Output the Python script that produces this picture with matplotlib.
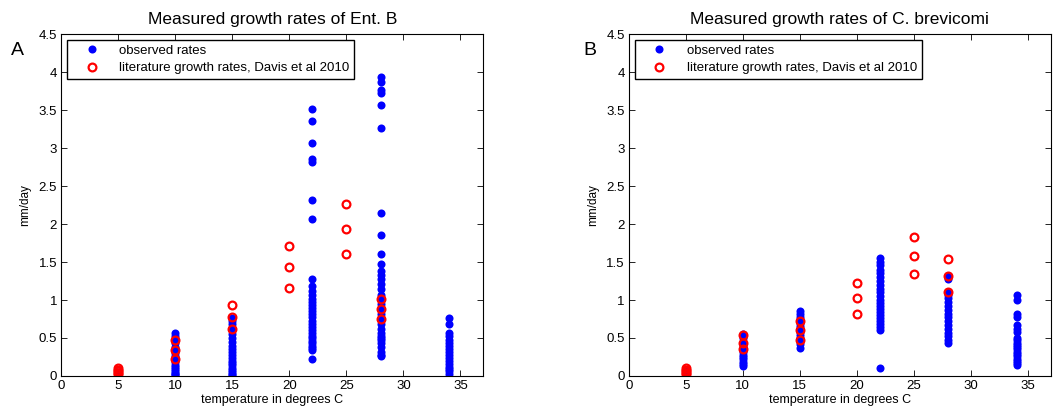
import matplotlib.pyplot as plt
import numpy as np

plt.rcParams['font.family'] = ['Liberation Sans', 'DejaVu Sans']

# observed growth rates (mm/day) per temperature, Ent. B
entb_obs_5 = [0.02, 0.05]
entb_obs_10 = [0.57, 0.52, 0.47, 0.43, 0.38, 0.34, 0.30, 0.26, 0.22, 0.18,
               0.15, 0.12, 0.09, 0.06, 0.04, 0.02, 0.01]
entb_obs_15 = [0.76, 0.72, 0.68, 0.62, 0.55, 0.50, 0.45, 0.40, 0.36, 0.32,
               0.28, 0.24, 0.20, 0.17, 0.14, 0.11, 0.08, 0.05, 0.03, 0.01]
entb_obs_22 = [3.52, 3.36, 3.07, 2.86, 2.82, 2.32, 2.06, 1.28, 1.18, 1.12,
               1.06, 1.01, 0.97, 0.93, 0.89, 0.85, 0.81, 0.77, 0.73, 0.69,
               0.65, 0.61, 0.57, 0.53, 0.50, 0.46, 0.43, 0.40, 0.37, 0.34, 0.23]
entb_obs_28 = [3.93, 3.87, 3.76, 3.72, 3.57, 3.27, 2.15, 1.86, 1.60, 1.48,
               1.38, 1.33, 1.27, 1.21, 1.14, 1.07, 1.01, 0.95, 0.88, 0.82,
               0.75, 0.68, 0.62, 0.56, 0.53, 0.50, 0.47, 0.43, 0.38, 0.32,
               0.28, 0.26]
entb_obs_34 = [0.76, 0.68, 0.56, 0.52, 0.48, 0.44, 0.40, 0.36, 0.32, 0.28,
               0.24, 0.20, 0.16, 0.12, 0.09, 0.06, 0.03]

# literature rates, Ent. B
entb_lit_temps = [5, 10, 15, 20, 25, 28]
entb_lit = [[0.02, 0.04, 0.06, 0.08, 0.10],
            [0.47, 0.34, 0.22],
            [0.94, 0.78, 0.62],
            [1.71, 1.43, 1.16],
            [2.26, 1.93, 1.61],
            [1.01, 0.88, 0.75]]

# observed growth rates, C. brevicomi
cbrev_obs_5 = [0.03, 0.06]
cbrev_obs_10 = [0.55, 0.50, 0.45, 0.40, 0.36, 0.32, 0.28, 0.25, 0.22, 0.19,
                0.16, 0.13]
cbrev_obs_15 = [0.86, 0.82, 0.78, 0.74, 0.70, 0.66, 0.62, 0.58, 0.54, 0.50,
                0.46, 0.42, 0.37]
cbrev_obs_22 = [1.55, 1.50, 1.46, 1.40, 1.35, 1.30, 1.25, 1.20, 1.15, 1.10,
                1.05, 1.00, 0.96, 0.92, 0.88, 0.84, 0.80, 0.76, 0.72, 0.68,
                0.64, 0.61, 0.10]
cbrev_obs_28 = [1.31, 1.27, 1.11, 1.06, 1.02, 0.97, 0.92, 0.87, 0.82, 0.77,
                0.72, 0.67, 0.62, 0.57, 0.52, 0.48, 0.43]
cbrev_obs_34 = [1.07, 1.00, 0.82, 0.78, 0.67, 0.62, 0.58, 0.50, 0.47, 0.44,
                0.41, 0.38, 0.35, 0.32, 0.29, 0.26, 0.23, 0.20, 0.17, 0.15]

# literature rates, C. brevicomi
cbrev_lit_temps = [5, 10, 15, 20, 25, 28]
cbrev_lit = [[0.02, 0.04, 0.06, 0.08, 0.10],
             [0.54, 0.44, 0.35],
             [0.73, 0.60, 0.47],
             [1.22, 1.02, 0.82],
             [1.83, 1.58, 1.34],
             [1.54, 1.32, 1.11]]

obs_temps = [5, 10, 15, 22, 28, 34]
entb_obs = [entb_obs_5, entb_obs_10, entb_obs_15, entb_obs_22, entb_obs_28, entb_obs_34]
cbrev_obs = [cbrev_obs_5, cbrev_obs_10, cbrev_obs_15, cbrev_obs_22, cbrev_obs_28, cbrev_obs_34]


def flatten(temps, groups):
    xs, ys = [], []
    for t, g in zip(temps, groups):
        xs += [t] * len(g)
        ys += list(g)
    return xs, ys


def panel(ax, obs, lit_temps, lit, title, letter, letter_x):
    ox, oy = flatten(obs_temps, obs)
    lx, ly = flatten(lit_temps, lit)
    ax.plot(ox, oy, 'o', color='b', markersize=5.8, markeredgewidth=0,
            label='observed rates')
    ax.plot(lx, ly, 'o', color='r', markerfacecolor='none', markersize=5.6,
            markeredgewidth=1.6, label='literature growth rates, Davis et al 2010')
    ax.set_xlim(0, 37)
    ax.set_ylim(0, 4.5)
    ax.set_xticks(np.arange(0, 36, 5))
    ax.set_yticks(np.arange(0, 4.6, 0.5))
    ax.set_yticklabels(['0', '0.5', '1', '1.5', '2', '2.5', '3', '3.5', '4', '4.5'])
    ax.tick_params(direction='in', length=4, labelsize=9.5, top=True, right=True,
                   width=0.6, pad=3)
    for s in ax.spines.values():
        s.set_linewidth(0.8)
    ax.set_title(title, fontsize=12.5, pad=7)
    ax.set_xlabel('temperature in degrees C', fontsize=9, labelpad=1)
    ax.set_ylabel('mm/day', fontsize=8.5, labelpad=5)
    leg = ax.legend(loc='upper left', fontsize=9.5, fancybox=False,
                    framealpha=1, borderaxespad=0.45, handlelength=3.0,
                    handletextpad=0.6, borderpad=0.35, labelspacing=0.4)
    leg.get_frame().set_edgecolor('k')
    leg.get_frame().set_linewidth(1.0)
    ax.text(letter_x, 0.953, letter, transform=ax.transAxes, fontsize=14,
            ha='center', va='center')


fig = plt.figure(figsize=(10.55, 4.12), dpi=100)
ax1 = fig.add_axes([0.058, 0.0874, 0.400, 0.830])
ax2 = fig.add_axes([0.596, 0.0874, 0.400, 0.830])

panel(ax1, entb_obs, entb_lit_temps, entb_lit, 'Measured growth rates of Ent. B', 'A', -0.103)
panel(ax2, cbrev_obs, cbrev_lit_temps, cbrev_lit, 'Measured growth rates of C. brevicomi', 'B', -0.092)

fig.savefig('out.png', dpi=100)
